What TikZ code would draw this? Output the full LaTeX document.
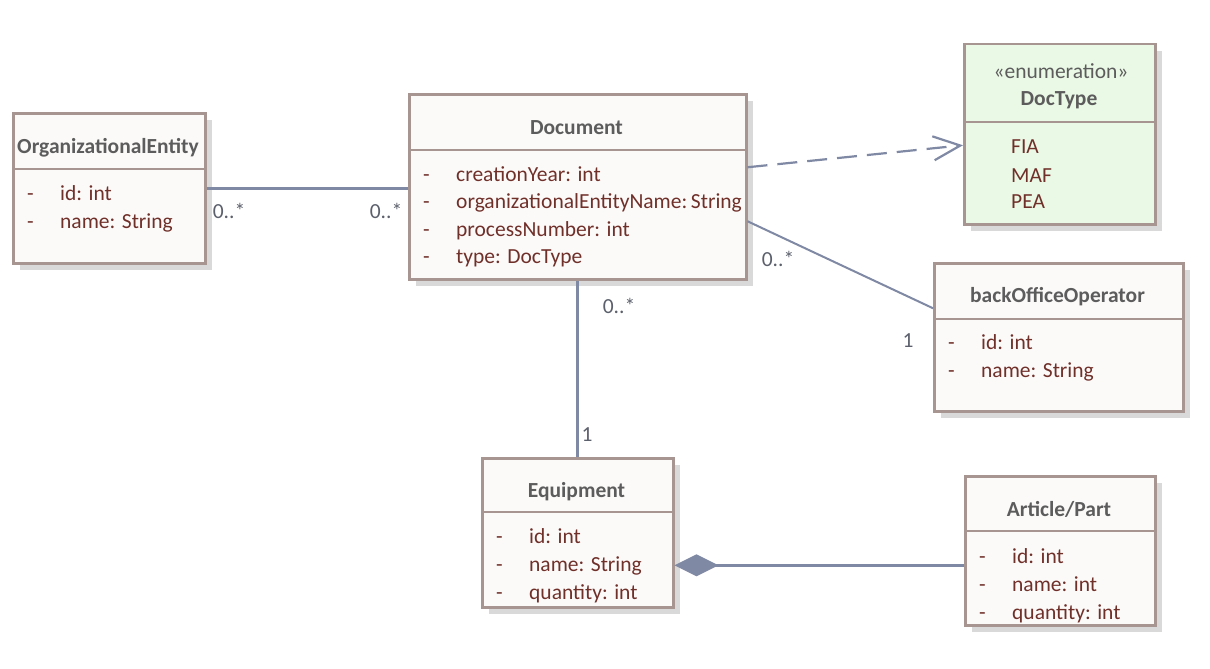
\documentclass[tikz,border=0pt]{standalone}
\usepackage{fontspec}
\setmainfont{Carlito}
\usetikzlibrary{arrows.meta, shadows}

\definecolor{boxline}{RGB}{167,149,146}
\definecolor{boxfill}{RGB}{252,250,249}
\definecolor{enumfill}{RGB}{234,249,230}
\definecolor{shade}{RGB}{217,217,217}
\definecolor{wire}{RGB}{127,137,163}
\definecolor{attrtext}{RGB}{112,48,42}
\definecolor{titletext}{RGB}{92,92,92}
\definecolor{multtext}{RGB}{92,96,108}

\newcommand{\attrline}[1]{\makebox[33pt][l]{-}#1}

\begin{document}
\begin{tikzpicture}[x=1pt, y=-1pt, font=\fontsize{21.5}{26}\selectfont]
        \useasboundingbox (0,0) rectangle (1210,669);
        \begin{scope}[every node/.style={draw=boxline, line width=2.5pt, fill=boxfill, anchor=north west, inner sep=0pt,
                drop shadow={fill=shade, opacity=1, shadow xshift=7pt, shadow yshift=-7pt}}]
            \node (orgent) [minimum width=192pt, minimum height=150pt] at (12,112) {};
            \node (doc) [minimum width=337pt, minimum height=185pt] at (408,93) {};
            \node (doctype) [fill=enumfill, minimum width=191pt, minimum height=180pt] at (963,43) {};
            \node (backoffice) [minimum width=249pt, minimum height=148pt] at (933,262) {};
            \node (equip) [minimum width=191pt, minimum height=149pt] at (481,457) {};
            \node (article) [minimum width=190pt, minimum height=149pt] at (964,475) {};
        \end{scope}
        \begin{scope}[draw=boxline, line width=2.5pt]
            \draw ([yshift=-57pt]orgent.north west) -- ([yshift=-57pt]orgent.north east);
            \draw ([yshift=-57pt]doc.north west) -- ([yshift=-57pt]doc.north east);
            \draw ([yshift=-79pt]doctype.north west) -- ([yshift=-79pt]doctype.north east);
            \draw ([yshift=-57pt]backoffice.north west) -- ([yshift=-57pt]backoffice.north east);
            \draw ([yshift=-55pt]equip.north west) -- ([yshift=-55pt]equip.north east);
            \draw ([yshift=-56pt]article.north west) -- ([yshift=-56pt]article.north east);
        \end{scope}
        \begin{scope}[every node/.style={anchor=base, text=titletext, font=\fontsize{21.5}{26}\selectfont\bfseries}]
            \node (orgent-name) at (108,153) {OrganizationalEntity};
            \node (doc-name) at (576.5,134) {Document};
            \node (doctype-stereo) [font=\fontsize{21.5}{26}\selectfont] at (1061,78) {«enumeration»};
            \node (doctype-name) at (1059,106) {DocType};
            \node (backoffice-name) at (1057.5,302) {backOfficeOperator};
            \node (equip-name) at (576.5,497) {Equipment};
            \node (article-name) at (1059,516) {Article/Part};
        \end{scope}
        \begin{scope}[every node/.style={anchor=base west, inner sep=0pt, text=attrtext}]
            \node (orgent-id) at (27,200) {\attrline{id: int}};
            \node (orgent-nm) at (27,228) {\attrline{name: String}};
            \node (doc-year) at (423,181) {\attrline{creationYear: int}};
            \node (doc-org) at (423,208) {\attrline{organizationalEntityName:\,String}};
            \node (doc-proc) at (423,236) {\attrline{processNumber: int}};
            \node (doc-type) at (423,263) {\attrline{type: DocType}};
            \node (doctype-fia) at (1011,153) {FIA};
            \node (doctype-maf) at (1011,182) {MAF};
            \node (doctype-pea) at (1011,208) {PEA};
            \node (backoffice-id) at (948,349) {\attrline{id: int}};
            \node (backoffice-nm) at (948,377) {\attrline{name: String}};
            \node (equip-id) at (496,543) {\attrline{id: int}};
            \node (equip-nm) at (496,571) {\attrline{name: String}};
            \node (equip-qty) at (496,599) {\attrline{quantity: int}};
            \node (article-id) at (979,563) {\attrline{id: int}};
            \node (article-nm) at (979,591) {\attrline{name: int}};
            \node (article-qty) at (979,619) {\attrline{quantity: int}};
        \end{scope}
        \begin{scope}[every edge/.style={draw=wire, line width=3pt}]
            \draw (orgent.east) edge (orgent.east -| doc.west);
            \draw (doc.south) edge (equip.north);
            \draw ([yshift=-34.5pt]doc.east) edge [line width=2pt] ([yshift=29pt]backoffice.west);
            \draw ([yshift=19.5pt]doc.east) edge [line width=2.2pt, dash pattern=on 20pt off 10pt,
                -{Straight Barb[length=27pt, width=24pt]}] ([yshift=-11pt]doctype.west);
            \draw ([yshift=-32.5pt]equip.east) edge [{Diamond[length=44pt, width=22pt]}-]
                ([yshift=-32.5pt]equip.east -| article.west);
        \end{scope}
        \begin{scope}[every node/.style={anchor=base, text=multtext}]
            \node (orgent-mult) at (229,218) {0..*};
            \node (doc-orgmult) at (386,218) {0..*};
            \node (doc-opmult) at (778,266) {0..*};
            \node (backoffice-mult) at (908,347) {1};
            \node (doc-eqmult) at (619,313) {0..*};
            \node (equip-mult) at (587,441) {1};
        \end{scope}
    \end{tikzpicture}
\end{document}
